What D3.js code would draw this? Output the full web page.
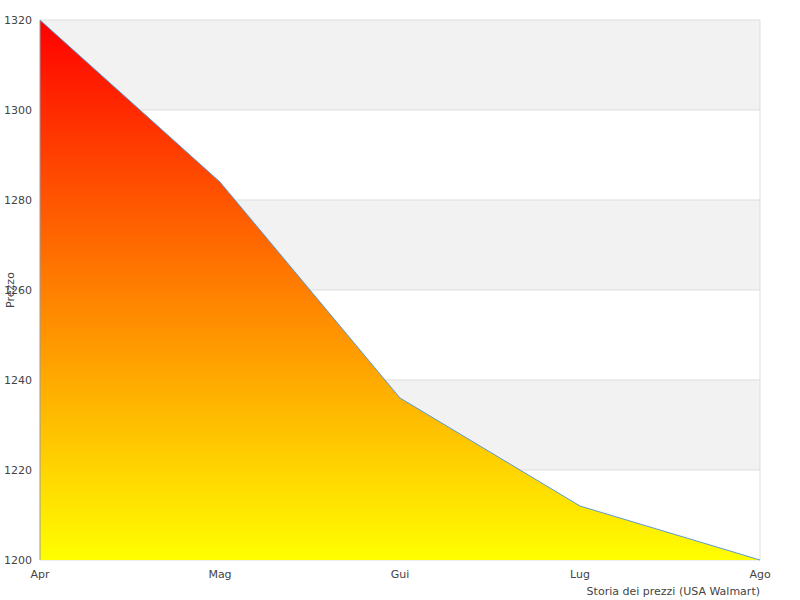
<!DOCTYPE html>
<html><head><meta charset="utf-8">
<script src="https://cdn.jsdelivr.net/npm/d3@7"></script>
<style>body{margin:0;background:#fff}text{font-family:"DejaVu Sans",sans-serif;font-size:11px;fill:#444}</style>
</head><body><svg id="c" width="800" height="600"></svg>
<script>
const months = ["Apr", "Mag", "Gui", "Lug", "Ago"];
const prices = [1320, 1284, 1236, 1212, 1200];
const yTicks = [1200, 1220, 1240, 1260, 1280, 1300, 1320];

const svg = d3.select("#c");
const plotLeft = 40, plotRight = 760, plotTop = 20, plotBottom = 560;

const x = d3.scalePoint().domain(months).range([plotLeft, plotRight]);
const y = d3.scaleLinear().domain([1200, 1320]).range([plotBottom, plotTop]);

// alternating bands
for (let i = 0; i < yTicks.length - 1; i++) {
    if (i % 2 === 1) {
        svg.append("rect").attr("x", plotLeft).attr("width", plotRight - plotLeft)
            .attr("y", y(yTicks[i + 1])).attr("height", y(yTicks[i]) - y(yTicks[i + 1]))
            .attr("fill", "#f2f2f2");
    }
}
svg.selectAll(".grid").data(yTicks).enter().append("line")
    .attr("x1", plotLeft).attr("x2", plotRight)
    .attr("y1", d => y(d)).attr("y2", d => y(d))
    .attr("stroke", "#ddd");
svg.append("line").attr("x1", plotRight).attr("x2", plotRight).attr("y1", plotTop).attr("y2", plotBottom).attr("stroke", "#ddd");

const grad = svg.append("defs").append("linearGradient").attr("id", "g")
    .attr("x1", 0).attr("y1", 0).attr("x2", 0).attr("y2", 1);
grad.append("stop").attr("offset", "0%").attr("stop-color", "#ff0000");
grad.append("stop").attr("offset", "100%").attr("stop-color", "#ffff00");

const data = months.map((m, i) => ({ m, v: prices[i] }));
svg.append("path").datum(data)
    .attr("d", d3.area().x(d => x(d.m)).y0(plotBottom).y1(d => y(d.v)))
    .attr("fill", "url(#g)");
svg.append("path").datum(data)
    .attr("d", d3.line().x(d => x(d.m)).y(d => y(d.v)))
    .attr("fill", "none").attr("stroke", "#5b9bd5").attr("stroke-width", 1);

svg.append("line").attr("x1", plotLeft).attr("x2", plotLeft).attr("y1", plotTop).attr("y2", plotBottom).attr("stroke", "#999");

svg.selectAll(".yl").data(yTicks).enter().append("text")
    .attr("x", plotLeft - 8).attr("y", d => y(d) + 4).attr("text-anchor", "end").text(d => d);
svg.selectAll(".xl").data(months).enter().append("text")
    .attr("x", d => x(d)).attr("y", plotBottom + 18).attr("text-anchor", "middle").text(d => d);

svg.append("text").attr("transform", "translate(14,290) rotate(-90)")
    .attr("text-anchor", "middle").text("Prezzo");
svg.append("text").attr("x", plotRight).attr("y", 595).attr("text-anchor", "end")
    .text("Storia dei prezzi (USA Walmart)");
</script></body></html>
